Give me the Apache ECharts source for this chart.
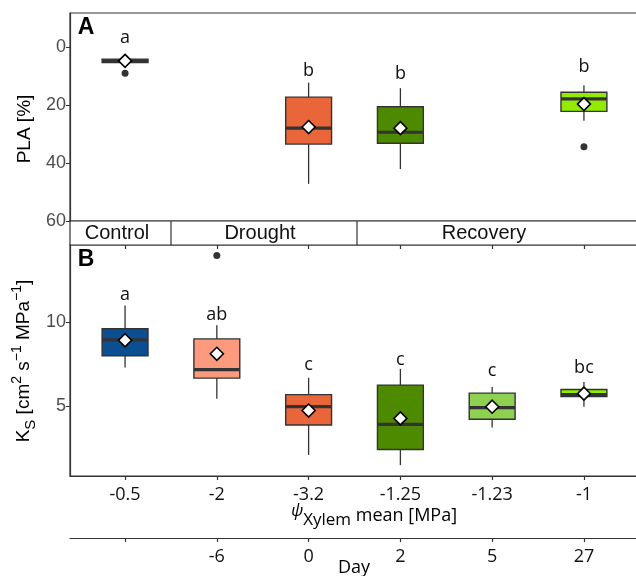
<!DOCTYPE html>
<html>
	<head>
		<title>PLA and Ks boxplots</title>
		<meta http-equiv="content-type" content="text/html; charset=UTF-8">
		<script src="https://cdn.jsdelivr.net/npm/echarts@6.0.0/dist/echarts.min.js"></script>
		<style>
			html {height: 100%; width: 100%;}
			body {height: 100%; width: 100%; margin:0px; background:#fff;}
		</style>
		<script>
			// treatments, position 1..6
			const psiLabels = ['-0.5', '-2', '-3.2', '-1.25', '-1.23', '-1'];
			const dayLabels = ['', '-6', '0', '2', '5', '27'];
			const groupColors = ['#0b4e92', '#fb9a7c', '#e8663a', '#4e8a00', '#8ed150', '#93eb00'];
			const strips = ['Control', 'Drought', 'Recovery'];

			// panel A: PLA [%], only measured on 4 dates
			const plaPos = [1, 3, 4, 6];
			const plaMin = [4.2, 12.3, 14.2, 13.2];
			const plaQ1 = [4.2, 17.3, 20.6, 15.6];
			const plaMed = [4.9, 28.0, 29.4, 17.9];
			const plaQ3 = [5.4, 33.5, 33.2, 22.2];
			const plaMax = [5.4, 47.2, 42.1, 25.4];
			const plaMean = [4.8, 27.6, 28.0, 19.7];
			const plaOutliers = [[1, 9.1], [6, 34.4]];
			const plaLetters = ['a', 'b', 'b', 'b'];
			const plaLetterY = [-3.2, 8.3, 9.3, 6.9];

			// panel B: Ks
			const ksPos = [1, 2, 3, 4, 5, 6];
			const ksMin = [7.3, 5.44, 2.08, 1.47, 3.71, 4.96];
			const ksQ1 = [8.0, 6.67, 3.87, 2.40, 4.21, 5.56];
			const ksMed = [8.95, 7.18, 4.96, 3.91, 4.90, 5.68];
			const ksQ3 = [9.62, 9.01, 5.68, 6.25, 5.77, 5.99];
			const ksMax = [11.0, 9.82, 6.69, 7.22, 6.13, 6.43];
			const ksMean = [8.93, 8.12, 4.73, 4.26, 4.96, 5.74];
			const ksOutliers = [[2, 13.99]];
			const ksLetters = ['a', 'ab', 'c', 'c', 'c', 'bc'];
			const ksLetterY = [11.65, 10.42, 7.44, 7.78, 7.08, 7.29];

			const ink = '#333333';
			const tickFont = 'Liberation Sans';
			const letterFont = 'Open Sans';

			function boxData(pos, mn, q1, md, q3, mx) {
				return pos.map((p, i) => [p, mn[i], q1[i], md[i], q3[i], mx[i]]);
			}

			function renderBox(params, api) {
				const x = api.value(0);
				const lo = api.coord([x, api.value(1)]);
				const a = api.coord([x, api.value(2)]);
				const m = api.coord([x, api.value(3)]);
				const b = api.coord([x, api.value(4)]);
				const hi = api.coord([x, api.value(5)]);
				const hw = api.size([0.5, 0])[0] / 2;
				const cx = lo[0];
				const top = Math.min(a[1], b[1]);
				const h = Math.abs(a[1] - b[1]);
				return {
					type: 'group',
					children: [
						{type: 'line', shape: {x1: cx, y1: lo[1], x2: cx, y2: a[1]}, style: {stroke: ink, lineWidth: 1.3}},
						{type: 'line', shape: {x1: cx, y1: hi[1], x2: cx, y2: b[1]}, style: {stroke: ink, lineWidth: 1.3}},
						{type: 'rect', shape: {x: cx - hw, y: top, width: 2 * hw, height: h}, style: {fill: groupColors[x - 1], stroke: ink, lineWidth: 1.4}},
						{type: 'line', shape: {x1: cx - hw, y1: m[1], x2: cx + hw, y2: m[1]}, style: {stroke: ink, lineWidth: 3.2}}
					]
				};
			}

			function letterRenderer(letters) {
				return function (params, api) {
					const p = api.coord([api.value(0), api.value(1)]);
					return {
						type: 'text',
						x: p[0], y: p[1],
						style: {text: letters[params.dataIndex], fill: '#111', font: '18px "' + letterFont + '"', align: 'center', verticalAlign: 'middle'}
					};
				};
			}

			function xAxisBase(grid) {
				return {
					type: 'value', gridIndex: grid, min: 0.4, max: 6.6, position: 'bottom',
					splitLine: {show: false},
					axisLine: {show: true, onZero: false, lineStyle: {color: ink, width: 1.2}},
					axisTick: {show: true, length: 4, customValues: ksPos, lineStyle: {color: ink, width: 1.2}},
					axisLabel: {show: true, customValues: ksPos, margin: 10, color: '#111', fontFamily: letterFont, fontSize: 18}
				};
			}

			function onload() {
				const chart = echarts.init(document.getElementById('container'), null, {renderer: 'canvas'});

				const xTop = xAxisBase(0);
				xTop.offset = 24;
				xTop.axisLine.show = false;
				xTop.axisLabel.show = false;

				const xPsi = xAxisBase(1);
				xPsi.axisLabel.formatter = v => psiLabels[Math.round(v) - 1];

				const xDay = xAxisBase(1);
				xDay.offset = 62;
				xDay.axisLabel.formatter = v => dayLabels[Math.round(v) - 1];

				const yStyle = {
					splitLine: {show: false},
					axisLine: {show: true, onZero: false, lineStyle: {color: ink, width: 1.2}},
					axisLabel: {color: '#4d4d4d', fontFamily: tickFont, fontSize: 18, margin: 4}
				};

				const option = {
					animation: false,
					grid: [
						{left: 70, top: 13, width: 569, height: 208, show: true, borderColor: ink, borderWidth: 1.2, containLabel: false, outerBoundsMode: 'none'},
						{left: 70, top: 245, width: 569, height: 231, show: true, borderColor: ink, borderWidth: 1.2, containLabel: false, outerBoundsMode: 'none'}
					],
					xAxis: [xTop, xPsi, xDay],
					yAxis: [
						Object.assign({
							type: 'value', gridIndex: 0, inverse: true, min: -11.7, max: 60,
							axisTick: {show: true, length: 4, customValues: [0, 20, 40, 60], lineStyle: {color: ink}}
						}, yStyle, {axisLabel: Object.assign({customValues: [0, 20, 40, 60]}, yStyle.axisLabel)}),
						Object.assign({
							type: 'value', gridIndex: 1, min: 0.82, max: 14.62,
							axisTick: {show: true, length: 4, customValues: [5, 10], lineStyle: {color: ink}}
						}, yStyle, {axisLabel: Object.assign({customValues: [5, 10]}, yStyle.axisLabel)})
					],
					series: [
						{type: 'custom', xAxisIndex: 0, yAxisIndex: 0, renderItem: renderBox, z: 2,
							data: boxData(plaPos, plaMin, plaQ1, plaMed, plaQ3, plaMax)},
						{type: 'scatter', xAxisIndex: 0, yAxisIndex: 0, symbol: 'circle', symbolSize: 7, z: 3,
							itemStyle: {color: ink, opacity: 1}, data: plaOutliers},
						{type: 'scatter', xAxisIndex: 0, yAxisIndex: 0, symbol: 'diamond', symbolSize: [13, 13], z: 4,
							itemStyle: {color: '#fff', borderColor: '#000', borderWidth: 1.6, opacity: 1},
							data: plaPos.map((p, i) => [p, plaMean[i]])},
						{type: 'custom', xAxisIndex: 0, yAxisIndex: 0, renderItem: letterRenderer(plaLetters), z: 5,
							data: plaPos.map((p, i) => [p, plaLetterY[i]])},

						{type: 'custom', xAxisIndex: 1, yAxisIndex: 1, renderItem: renderBox, z: 2,
							data: boxData(ksPos, ksMin, ksQ1, ksMed, ksQ3, ksMax)},
						{type: 'scatter', xAxisIndex: 1, yAxisIndex: 1, symbol: 'circle', symbolSize: 7, z: 3,
							itemStyle: {color: ink, opacity: 1}, data: ksOutliers},
						{type: 'scatter', xAxisIndex: 1, yAxisIndex: 1, symbol: 'diamond', symbolSize: [13, 13], z: 4,
							itemStyle: {color: '#fff', borderColor: '#000', borderWidth: 1.6, opacity: 1},
							data: ksPos.map((p, i) => [p, ksMean[i]])},
						{type: 'custom', xAxisIndex: 1, yAxisIndex: 1, renderItem: letterRenderer(ksLetters), z: 5,
							data: ksPos.map((p, i) => [p, ksLetterY[i]])}
					],
					graphic: [
						// strip under panel A
						{type: 'rect', shape: {x: 70, y: 221, width: 569, height: 24}, style: {fill: '#fff', stroke: ink, lineWidth: 1.2}},
						{type: 'line', shape: {x1: 171, y1: 221, x2: 171, y2: 245}, style: {stroke: ink, lineWidth: 1.2}},
						{type: 'line', shape: {x1: 357, y1: 221, x2: 357, y2: 245}, style: {stroke: ink, lineWidth: 1.2}},
						{type: 'text', x: 117, y: 233, style: {text: strips[0], font: '20px "Liberation Sans"', fill: '#111', align: 'center', verticalAlign: 'middle'}},
						{type: 'text', x: 260, y: 233, style: {text: strips[1], font: '20px "Liberation Sans"', fill: '#111', align: 'center', verticalAlign: 'middle'}},
						{type: 'text', x: 484, y: 233, style: {text: strips[2], font: '20px "Liberation Sans"', fill: '#111', align: 'center', verticalAlign: 'middle'}},
						// panel tags
						{type: 'text', x: 86, y: 28, style: {text: 'A', font: 'bold 23px "Liberation Sans"', fill: '#000', align: 'center', verticalAlign: 'middle'}},
						{type: 'text', x: 86, y: 260, style: {text: 'B', font: 'bold 23px "Liberation Sans"', fill: '#000', align: 'center', verticalAlign: 'middle'}},
						// axis titles
						{type: 'text', x: 25, y: 129, rotation: Math.PI / 2,
							style: {text: 'PLA [%]', font: '19px "Liberation Sans"', fill: '#000', align: 'center', verticalAlign: 'middle'}},
						{type: 'text', x: 24, y: 361, rotation: Math.PI / 2,
							style: {
								text: '{n|K}{sub|S}{n| [cm}{sup|2}{n| s}{sup|\u22121}{n| MPa}{sup|\u22121}{n|]}',
								align: 'center', verticalAlign: 'middle',
								rich: {
									n: {fontFamily: 'Liberation Sans', fontSize: 19, lineHeight: 28, verticalAlign: 'middle', color: '#000'},
									sub: {fontFamily: 'Liberation Sans', fontSize: 15, lineHeight: 15, verticalAlign: 'bottom', color: '#000'},
									sup: {fontFamily: 'Liberation Sans', fontSize: 14, lineHeight: 14, verticalAlign: 'top', color: '#000'}
								}
							}},
						{type: 'text', x: 374, y: 516,
							style: {
								text: '{psi|\u03c8}{sub|Xylem}{n| mean [MPa]}',
								align: 'center', verticalAlign: 'middle',
								rich: {
									psi: {fontFamily: 'Open Sans', fontStyle: 'italic', fontSize: 17, lineHeight: 17, verticalAlign: 'top', color: '#000'},
									sub: {fontFamily: 'Open Sans', fontSize: 17, lineHeight: 17, verticalAlign: 'bottom', color: '#000'},
									n: {fontFamily: 'Open Sans', fontSize: 18, lineHeight: 26, verticalAlign: 'middle', color: '#000'}
								}
							}},
						{type: 'text', x: 354, y: 568, style: {text: 'Day', font: '18px "Open Sans"', fill: '#000', align: 'center', verticalAlign: 'middle'}}
					]
				};
				chart.setOption(option);
			}
		</script>
	</head>
	<body onload="onload()">
		<div id="container" style="width:636px;height:576px;"></div>
	</body>
</html>
